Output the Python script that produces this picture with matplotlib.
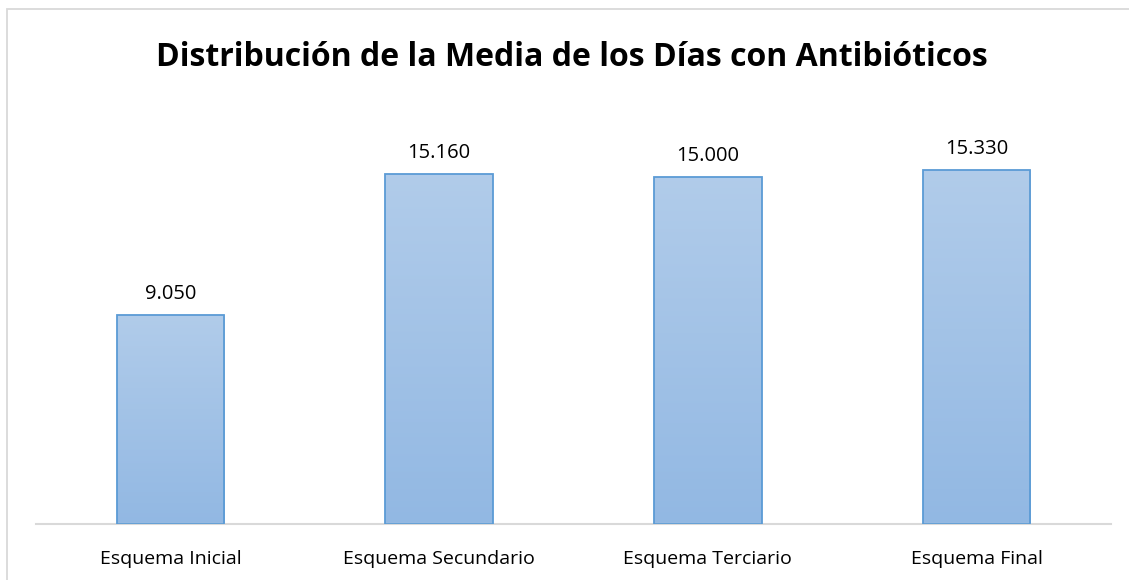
import matplotlib.pyplot as plt
import numpy as np
from matplotlib.patches import Rectangle

categories = ['Esquema Inicial', 'Esquema Secundario', 'Esquema Terciario', 'Esquema Final']
values = [9.05, 15.16, 15.00, 15.33]
value_labels = ['9.050', '15.160', '15.000', '15.330']

plt.rcParams['font.family'] = ['Open Sans', 'DejaVu Sans']

fig = plt.figure(figsize=(11.29, 5.8), dpi=100)
ax = fig.add_axes([36 / 1129, (580 - 523.5) / 580, (1111 - 36) / 1129, (523.5 - 108) / 580])

x = np.arange(len(categories))
bars = ax.bar(x, values, width=0.4, color='none', edgecolor='#5b9bd5', linewidth=1.3, zorder=3)

# gradient fill, light at top, darker at bottom
grad = np.linspace(0, 1, 256).reshape(-1, 1)
top = np.array([0.694, 0.800, 0.918])
bot = np.array([0.573, 0.722, 0.890])
img = top + (bot - top) * grad[:, :, None] * np.ones((1, 1, 3))
for b in bars:
    x0, y0, w, h = b.get_x(), b.get_y(), b.get_width(), b.get_height()
    im = ax.imshow(img, extent=[x0, x0 + w, y0, y0 + h], aspect='auto', zorder=2)
    im.set_clip_path(Rectangle((x0, y0), w, h, transform=ax.transData))

for xi, v, lab in zip(x, values, value_labels):
    ax.text(xi, v + 0.9, lab, ha='center', va='center', fontsize=14.5, color='#000000')

ax.set_xlim(-0.5, 3.5)
ax.set_ylim(0, 18)
ax.set_xticks(x)
ax.set_xticklabels(categories, fontsize=14)
ax.tick_params(axis='x', length=0, pad=19)
ax.set_yticks([])
for s in ['top', 'right', 'left']:
    ax.spines[s].set_visible(False)
ax.spines['bottom'].set_color('#d9d9d9')
ax.spines['bottom'].set_linewidth(1.5)

fig.text(572 / 1129, 1 - 57 / 580, 'Distribución de la Media de los Días con Antibióticos',
         ha='center', va='center', fontsize=23, fontweight='bold')

# chart area border
fig.patches.append(Rectangle((7 / 1129, -0.1), 1.2, 1 - 9 / 580 + 0.1, transform=fig.transFigure,
                             fill=False, edgecolor='#d9d9d9', linewidth=1.3))

fig.savefig('out.png', dpi=100)
